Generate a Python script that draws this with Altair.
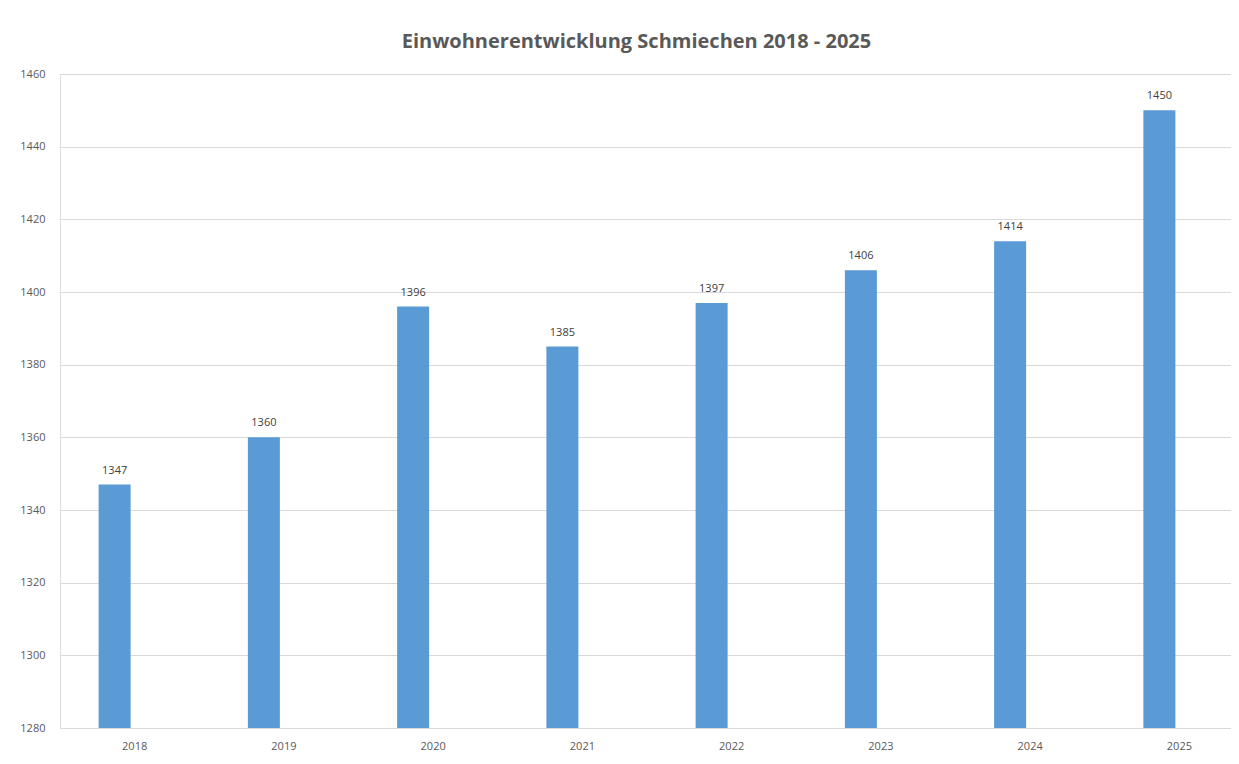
import altair as alt
import pandas as pd

years = ["2018", "2019", "2020", "2021", "2022", "2023", "2024", "2025"]
residents = [1347, 1360, 1396, 1385, 1397, 1406, 1414, 1450]
y_ticks = [1280, 1300, 1320, 1340, 1360, 1380, 1400, 1420, 1440, 1460]
y_base = 1280

df = pd.DataFrame({"Jahr": years, "Einwohner": residents})

x = alt.X("Jahr:N", sort=years, title=None,
          scale=alt.Scale(range=[0, 1194], paddingInner=0, paddingOuter=0),
          axis=alt.Axis(labelAngle=0, domain=False, ticks=False, labelPadding=12,
                        labelFont="Open Sans", labelFontSize=11, labelColor="#595959"))
y = alt.Y("Einwohner:Q", title=None,
          scale=alt.Scale(domain=[1280, 1460], nice=False, zero=False),
          axis=alt.Axis(values=y_ticks, format="d", domain=False, ticks=False, labelPadding=15,
                        labelFont="Open Sans", labelFontSize=11, labelColor="#595959",
                        gridColor="#d9d9d9", gridWidth=1))

bars = alt.Chart(df).mark_bar(size=32, xOffset=-20, color="#5B9BD5").encode(
    x=x, y=y, y2=alt.datum(y_base))
labels = alt.Chart(df).mark_text(dx=-20, dy=-9, baseline="bottom", font="Open Sans",
                                 fontSize=11, color="#404040").encode(
    x=x, y=y, text="Einwohner:Q")

chart = (bars + labels).properties(
    width=1171, height=654,
    autosize=alt.AutoSizeParams(type="none"),
    padding={"left": 52, "top": 66, "right": 0, "bottom": 30},
    title=alt.TitleParams("Einwohnerentwicklung Schmiechen 2018 - 2025",
                          font="Open Sans", fontSize=20, fontWeight="bold",
                          color="#595959", anchor="middle", offset=16, dx=-9),
).configure_view(stroke=None).configure(background="white")

chart.save("out.html", embed_options={"renderer": "svg", "actions": False})
